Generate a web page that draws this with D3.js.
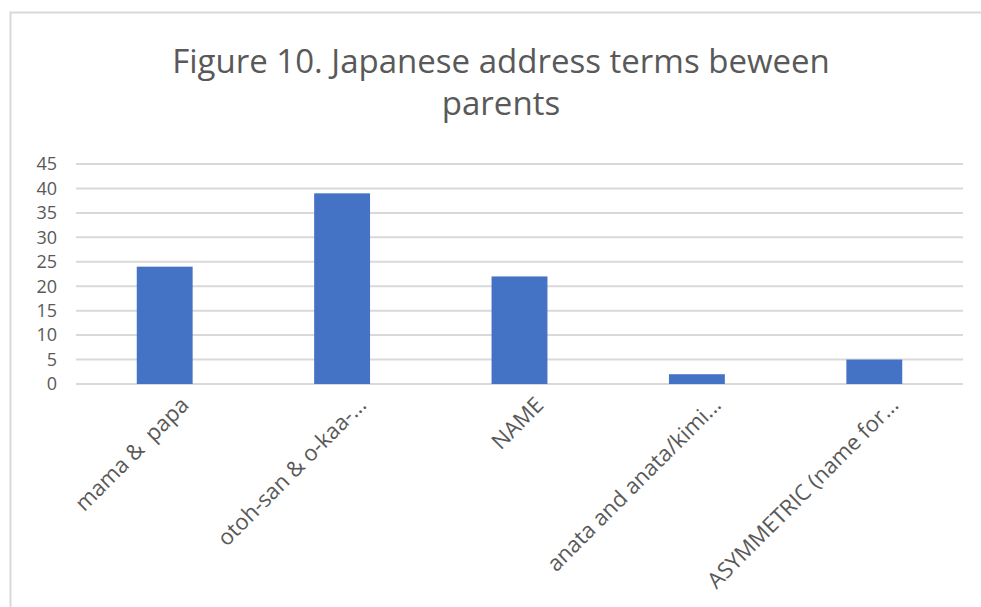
<!DOCTYPE html>
<html>
<head>
<meta charset="utf-8">
<script src="https://cdn.jsdelivr.net/npm/d3@7"></script>
<style>
  body { margin: 0; background: #fff; }
  svg { display: block; font-family: "Open Sans", "Noto Sans", sans-serif; }
  .ylab { fill: #595959; font-size: 18px; }
  .xlab { fill: #595959; font-size: 22px; white-space: pre; }
  .title { fill: #595959; }
</style>
</head>
<body>
<svg class="chart" width="981" height="607"></svg>
<script>
const categories = ["mama &  papa", "otoh-san & o-kaa-...", "NAME", "anata and anata/kimi...", "ASYMMETRIC (name for..."]
const counts = [24, 39, 22, 2, 5]
const yTicks = [0, 5, 10, 15, 20, 25, 30, 35, 40, 45]
const titleLines = ["Figure 10. Japanese address terms beween", "parents"]

const svg = d3.select("svg.chart")

// chart frame
svg.append("rect")
    .attr("x", 10.5)
    .attr("y", 12.5)
    .attr("width", 1000)
    .attr("height", 700)
    .attr("fill", "none")
    .attr("stroke", "#d9d9d9")
    .attr("stroke-width", 2)

const x = d3.scaleBand()
    .domain(categories)
    .range([76, 963])
    .paddingInner(0.685)
    .paddingOuter(0.3425)

const y = d3.scaleLinear()
    .domain([0, 45])
    .range([384, 164])

// gridlines
svg.append("g")
    .selectAll("line")
    .data(yTicks)
    .enter()
    .append("line")
    .attr("x1", 76)
    .attr("x2", 963)
    .attr("y1", d => y(d))
    .attr("y2", d => y(d))
    .attr("stroke", "#d9d9d9")
    .attr("stroke-width", 2)

// y labels
svg.append("g")
    .selectAll("text")
    .data(yTicks)
    .enter()
    .append("text")
    .attr("class", "ylab")
    .attr("x", 57)
    .attr("y", d => y(d))
    .attr("dy", "0.35em")
    .attr("text-anchor", "end")
    .text(d => d)

// bars
svg.append("g")
    .selectAll("rect")
    .data(counts)
    .enter()
    .append("rect")
    .attr("x", (d, i) => x(categories[i]))
    .attr("y", d => y(d))
    .attr("width", x.bandwidth())
    .attr("height", d => y(0) - y(d))
    .attr("fill", "#4472C4")

// x labels, rotated
svg.append("g")
    .selectAll("text")
    .data(categories)
    .enter()
    .append("text")
    .attr("class", "xlab")
    .attr("transform", d => "translate(" + (x(d) + x.bandwidth() / 2 + 20) + ",401) rotate(-45)")
    .attr("text-anchor", "end")
    .attr("dy", "0.35em")
    .text(d => d)

// title
const title = svg.append("g")
    .selectAll("text")
    .data(titleLines)
    .enter()
    .append("text")
    .attr("class", "title")
    .attr("x", 501)
    .attr("y", (d, i) => 73 + i * 42)
    .attr("text-anchor", "middle")
    .style("font-size", "30px")
    .text(d => d)

// fit first title line to the reference width
const w = title.node().getComputedTextLength()
title.style("font-size", (30 * 658 / w) + "px")
</script>
</body>
</html>
